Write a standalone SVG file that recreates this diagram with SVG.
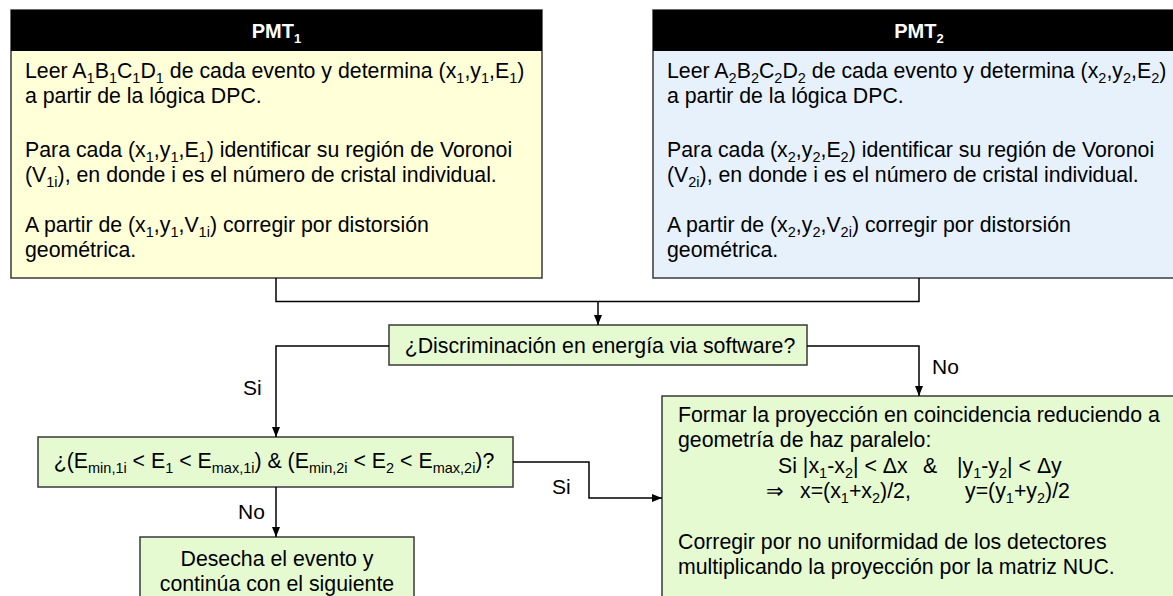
<svg xmlns="http://www.w3.org/2000/svg" width="1173" height="596" viewBox="0 0 1173 596">
<defs>
<marker id="arr" viewBox="0 0 10 10" refX="10" refY="5" markerWidth="10" markerHeight="10" markerUnits="userSpaceOnUse" orient="auto">
<path d="M0,1 L10,5 L0,9 Z" fill="#000"/>
</marker>
<style>
text{font-family:"Liberation Sans",Arial,sans-serif;font-size:21.3px;fill:#000}
.hd{font-weight:bold;font-size:20px;fill:#fff;text-anchor:middle}
.c{text-anchor:middle}
.s{font-size:14.5px;baseline-shift:-5px}
.hs{font-size:13px;baseline-shift:-5px}
.box{stroke:#3a3a3a;stroke-width:1.5}
.y{fill:#FFFFD8}
.b{fill:#E7F1FC}
.g{fill:#E6FAD2}
.conn path{fill:none;stroke:#000;stroke-width:1.5}
.lbl{font-size:21px}
</style>
</defs>
<g id="pmt1">
<rect class="box y" x="11" y="10" width="531" height="268"/>
<rect x="11" y="10" width="531" height="41" fill="#000"/>
<text class="hd" x="276.5" y="38">PMT<tspan class="hs">1</tspan></text>
<text x="25" y="78">Leer A<tspan class="s">1</tspan>B<tspan class="s">1</tspan>C<tspan class="s">1</tspan>D<tspan class="s">1</tspan> de cada evento y determina (x<tspan class="s">1</tspan>,y<tspan class="s">1</tspan>,E<tspan class="s">1</tspan>)</text>
<text x="25" y="103">a partir de la lógica DPC.</text>
<text x="25" y="157">Para cada (x<tspan class="s">1</tspan>,y<tspan class="s">1</tspan>,E<tspan class="s">1</tspan>) identificar su región de Voronoi</text>
<text x="25" y="182">(V<tspan class="s">1i</tspan>), en donde i es el número de cristal individual.</text>
<text x="25" y="232">A partir de (x<tspan class="s">1</tspan>,y<tspan class="s">1</tspan>,V<tspan class="s">1i</tspan>) corregir por distorsión</text>
<text x="25" y="257">geométrica.</text>
</g>
<g id="pmt2">
<rect class="box b" x="653" y="10" width="540" height="268"/>
<rect x="653" y="10" width="540" height="41" fill="#000"/>
<text class="hd" x="919" y="38">PMT<tspan class="hs">2</tspan></text>
<text x="667" y="78">Leer A<tspan class="s">2</tspan>B<tspan class="s">2</tspan>C<tspan class="s">2</tspan>D<tspan class="s">2</tspan> de cada evento y determina (x<tspan class="s">2</tspan>,y<tspan class="s">2</tspan>,E<tspan class="s">2</tspan>)</text>
<text x="667" y="103">a partir de la lógica DPC.</text>
<text x="667" y="157">Para cada (x<tspan class="s">2</tspan>,y<tspan class="s">2</tspan>,E<tspan class="s">2</tspan>) identificar su región de Voronoi</text>
<text x="667" y="182">(V<tspan class="s">2i</tspan>), en donde i es el número de cristal individual.</text>
<text x="667" y="232">A partir de (x<tspan class="s">2</tspan>,y<tspan class="s">2</tspan>,V<tspan class="s">2i</tspan>) corregir por distorsión</text>
<text x="667" y="257">geométrica.</text>
</g>
<g id="disc">
<rect class="box g" x="389" y="325" width="418" height="40"/>
<text class="c" x="600" y="353">¿Discriminación en energía via software?</text>
</g>
<g id="cond">
<rect class="box g" x="38" y="437" width="475" height="50"/>
<text class="c" x="274" y="468">¿(E<tspan class="s">min,1i</tspan> &lt; E<tspan class="s">1</tspan> &lt; E<tspan class="s">max,1i</tspan>) &amp; (E<tspan class="s">min,2i</tspan> &lt; E<tspan class="s">2</tspan> &lt; E<tspan class="s">max,2i</tspan>)?</text>
</g>
<g id="discard">
<rect class="box g" x="140" y="537" width="274" height="80"/>
<text class="c" x="277" y="566">Desecha el evento y</text>
<text class="c" x="277" y="591">continúa con el siguiente</text>
</g>
<g id="proj">
<rect class="box g" x="662" y="396" width="530" height="220"/>
<text x="678" y="422">Formar la proyección en coincidencia reduciendo a</text>
<text x="678" y="447">geometría de haz paralelo:</text>
<text x="778" y="473">Si |x<tspan class="s">1</tspan>-x<tspan class="s">2</tspan>| &lt; Δx</text>
<text x="923" y="473">&amp;</text>
<text x="957" y="473">|y<tspan class="s">1</tspan>-y<tspan class="s">2</tspan>| &lt; Δy</text>
<text x="766" y="498">⇒</text>
<text x="800" y="498">x=(x<tspan class="s">1</tspan>+x<tspan class="s">2</tspan>)/2,</text>
<text x="965" y="498">y=(y<tspan class="s">1</tspan>+y<tspan class="s">2</tspan>)/2</text>
<text x="678" y="549">Corregir por no uniformidad de los detectores</text>
<text x="678" y="574">multiplicando la proyección por la matriz NUC.</text>
</g>
<g id="connectors" class="conn">
<path d="M276,278 V301.5 H919 V278"/>
<path d="M598,301.5 V325" marker-end="url(#arr)"/>
<path d="M389,346 H276 V437" marker-end="url(#arr)"/>
<path d="M807,346 H919 V396" marker-end="url(#arr)"/>
<path d="M276,487 V537" marker-end="url(#arr)"/>
<path d="M513,462 H589 V498 H662" marker-end="url(#arr)"/>
<text class="lbl" x="243" y="395">Si</text>
<text class="lbl" x="932" y="374">No</text>
<text class="lbl" x="238" y="519">No</text>
<text class="lbl" x="552" y="494">Si</text>
</g>
</svg>
